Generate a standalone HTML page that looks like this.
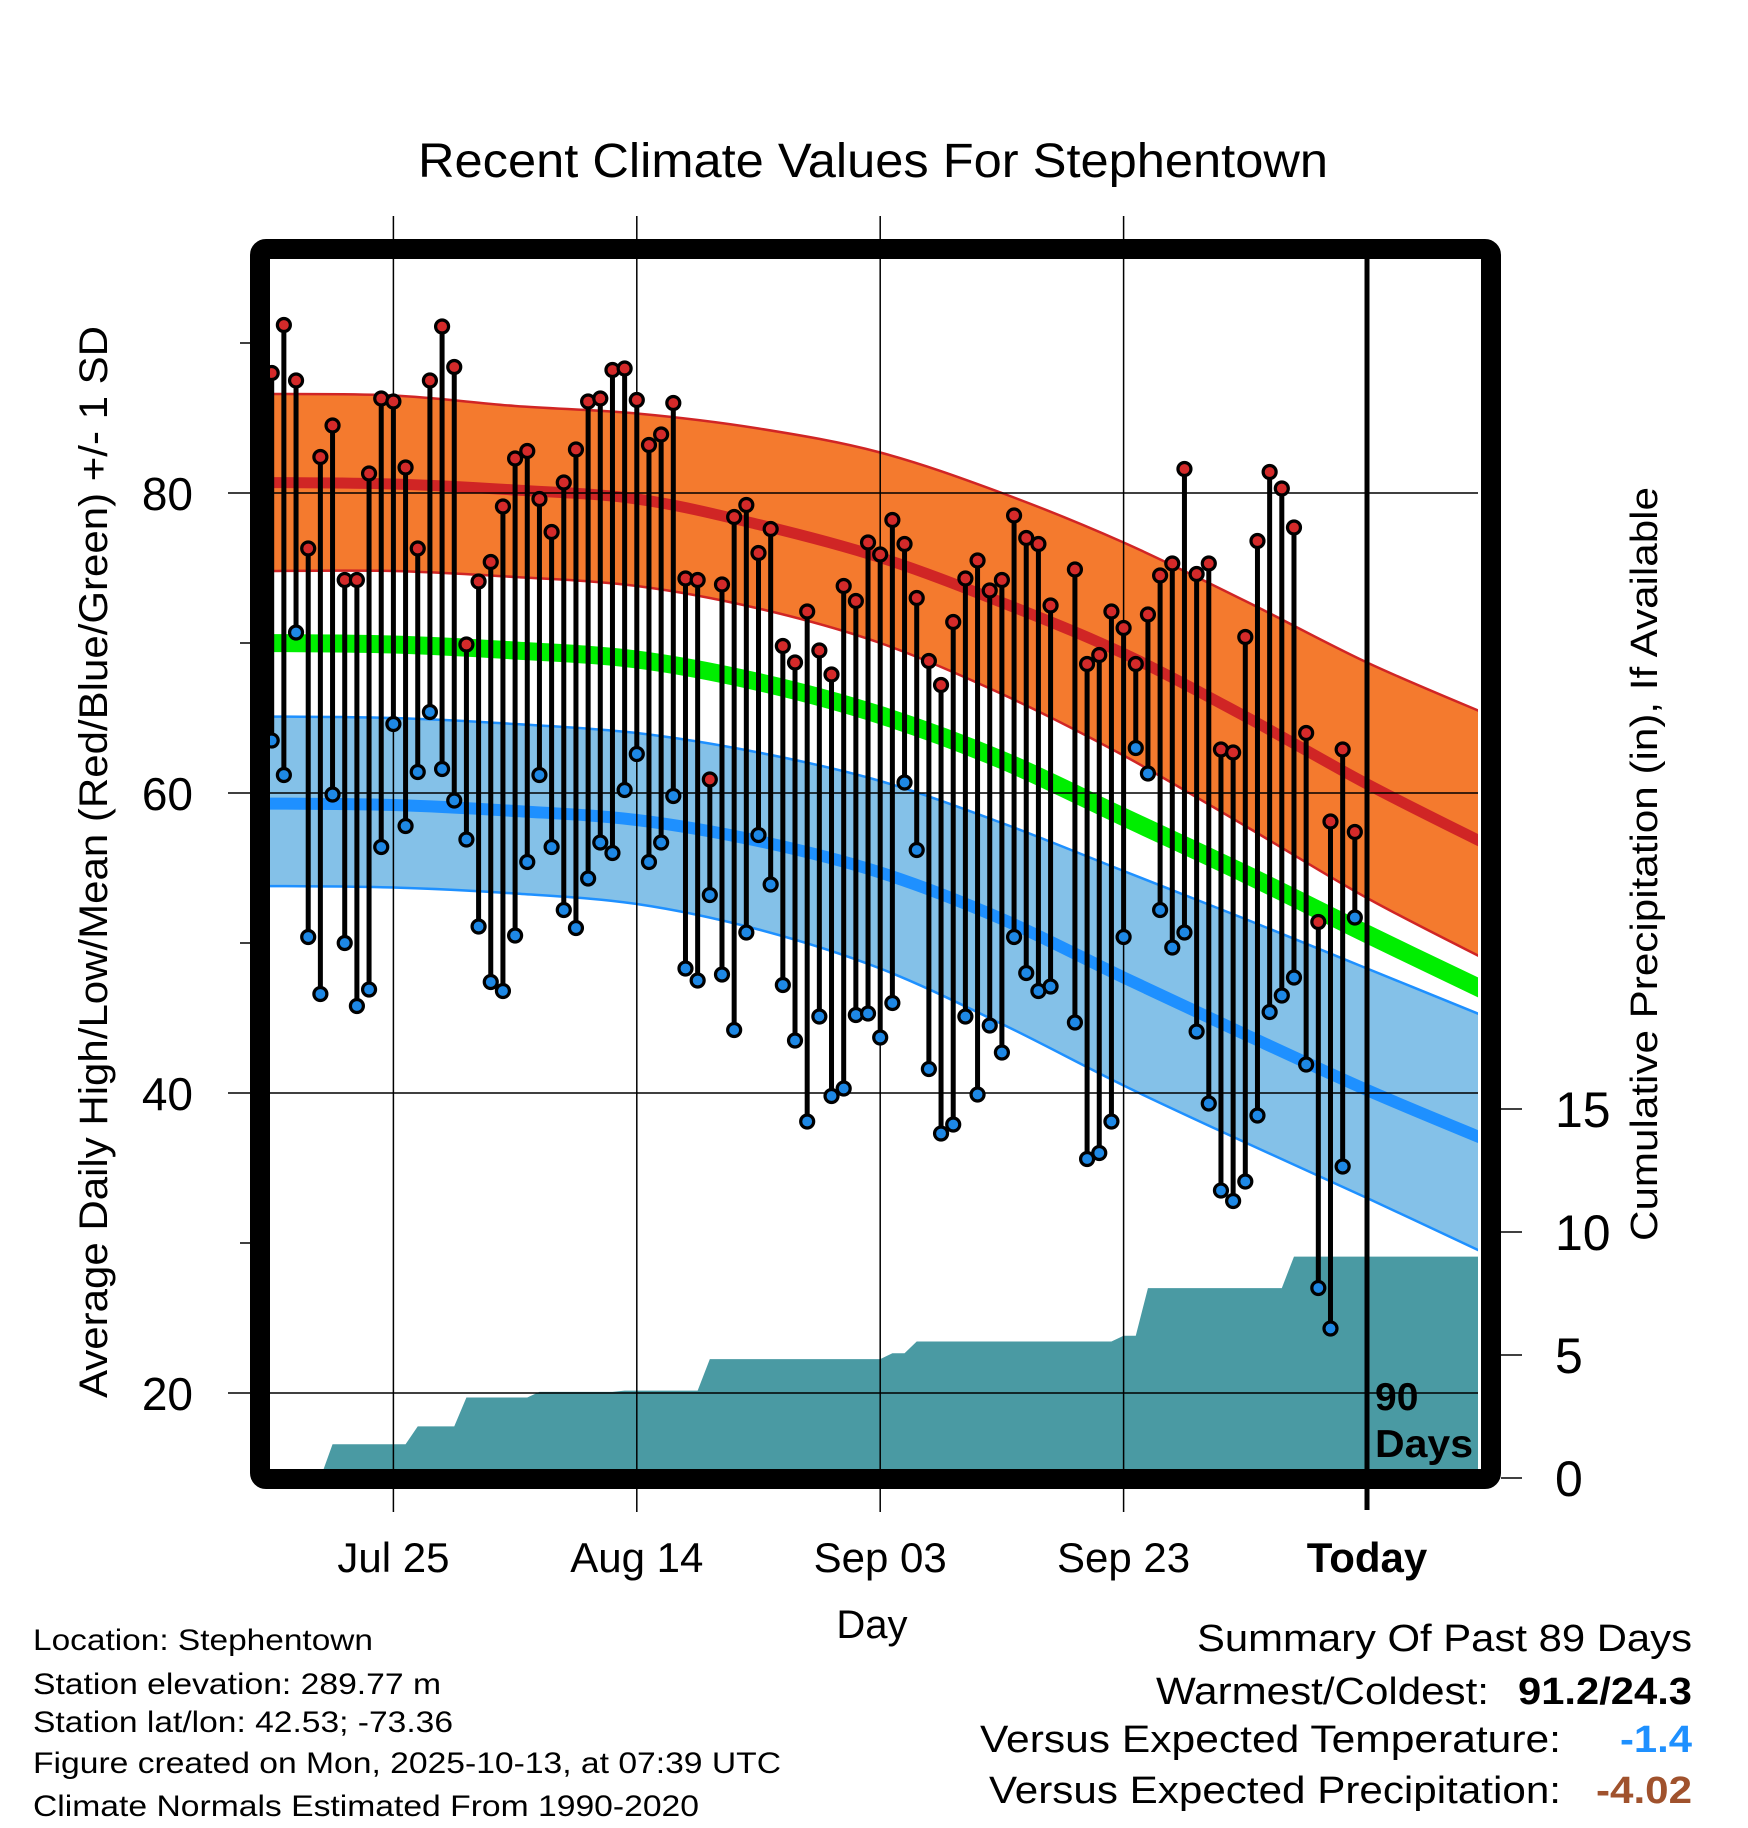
<!DOCTYPE html>
<html><head><meta charset="utf-8"><style>
html,body{margin:0;padding:0;background:#fff;}
svg{display:block;font-family:"Liberation Sans",Arial,sans-serif;}
</style></head><body>
<svg id="chart" width="1748" height="1828" viewBox="0 0 1748 1828" xmlns="http://www.w3.org/2000/svg">
<defs><clipPath id="plotclip"><rect x="270" y="259" width="1208" height="1210"/></clipPath></defs>
<text x="873" y="177" font-size="48" text-anchor="middle" textLength="910" lengthAdjust="spacingAndGlyphs">Recent Climate Values For Stephentown</text>
<g id="bands" clip-path="url(#plotclip)"></g>
<g id="precip" clip-path="url(#plotclip)"></g>
<g id="grid"></g>
<g id="marks" clip-path="url(#plotclip)"></g>
<g id="axes"></g>
<rect x="260" y="249" width="1231" height="1230" rx="6" fill="none" stroke="#000" stroke-width="20"/>
<text x="1375" y="1410" font-size="39" font-weight="bold">90</text>
<text x="1375" y="1457" font-size="39" font-weight="bold" textLength="98" lengthAdjust="spacingAndGlyphs">Days</text>
<text transform="translate(107,862) rotate(-90)" font-size="40" text-anchor="middle" textLength="1072" lengthAdjust="spacingAndGlyphs">Average Daily High/Low/Mean (Red/Blue/Green) +/- 1 SD</text>
<text transform="translate(1657,864) rotate(-90)" font-size="38" text-anchor="middle" textLength="754" lengthAdjust="spacingAndGlyphs">Cumulative Precipitation (in), If Available</text>
<text x="872" y="1638" font-size="40" text-anchor="middle">Day</text>
<g font-size="30">
<text x="33" y="1650" textLength="340" lengthAdjust="spacingAndGlyphs">Location: Stephentown</text>
<text x="33" y="1694" textLength="408" lengthAdjust="spacingAndGlyphs">Station elevation: 289.77 m</text>
<text x="33" y="1732" textLength="420" lengthAdjust="spacingAndGlyphs">Station lat/lon: 42.53; -73.36</text>
<text x="33" y="1773" textLength="748" lengthAdjust="spacingAndGlyphs">Figure created on Mon, 2025-10-13, at 07:39 UTC</text>
<text x="33" y="1816" textLength="666" lengthAdjust="spacingAndGlyphs">Climate Normals Estimated From 1990-2020</text>
</g>
<g font-size="38">
<text x="1692" y="1651" text-anchor="end" textLength="495" lengthAdjust="spacingAndGlyphs">Summary Of Past 89 Days</text>
<text x="1156" y="1704" textLength="333" lengthAdjust="spacingAndGlyphs">Warmest/Coldest:</text>
<text x="1692" y="1704" text-anchor="end" font-weight="bold" textLength="174" lengthAdjust="spacingAndGlyphs">91.2/24.3</text>
<text x="980" y="1752" textLength="581" lengthAdjust="spacingAndGlyphs">Versus Expected Temperature:</text>
<text x="1692" y="1752" text-anchor="end" font-weight="bold" fill="#1e90ff" textLength="72" lengthAdjust="spacingAndGlyphs">-1.4</text>
<text x="989" y="1803" textLength="572" lengthAdjust="spacingAndGlyphs">Versus Expected Precipitation:</text>
<text x="1692" y="1803" text-anchor="end" font-weight="bold" fill="#a0522d" textLength="96" lengthAdjust="spacingAndGlyphs">-4.02</text>
</g>
</svg>
<script>
const highs = [88.0,91.2,87.5,76.3,82.4,84.5,74.2,74.2,81.3,86.3,86.1,81.7,76.3,87.5,91.1,88.4,69.9,74.1,75.4,79.1,82.3,82.8,79.6,77.4,80.7,82.9,86.1,86.3,88.2,88.3,86.2,83.2,83.9,86.0,74.3,74.2,60.9,73.9,78.4,79.2,76.0,77.6,69.8,68.7,72.1,69.5,67.9,73.8,72.8,76.7,75.9,78.2,76.6,73.0,68.8,67.2,71.4,74.3,75.5,73.5,74.2,78.5,77.0,76.6,72.5,null,74.9,68.6,69.2,72.1,71.0,68.6,71.9,74.5,75.3,81.6,74.6,75.3,62.9,62.7,70.4,76.8,81.4,80.3,77.7,64.0,51.4,58.1,62.9,57.4];
const lows = [63.5,61.2,70.7,50.4,46.6,59.9,50.0,45.8,46.9,56.4,64.6,57.8,61.4,65.4,61.6,59.5,56.9,51.1,47.4,46.8,50.5,55.4,61.2,56.4,52.2,51.0,54.3,56.7,56.0,60.2,62.6,55.4,56.7,59.8,48.3,47.5,53.2,47.9,44.2,50.7,57.2,53.9,47.2,43.5,38.1,45.1,39.8,40.3,45.2,45.3,43.7,46.0,60.7,56.2,41.6,37.3,37.9,45.1,39.9,44.5,42.7,50.4,48.0,46.8,47.1,null,44.7,35.6,36.0,38.1,50.4,63.0,61.3,52.2,49.7,50.7,44.1,39.3,33.5,32.8,34.1,38.5,45.4,46.5,47.7,41.9,27.0,24.3,35.1,51.7];
const precipDays = [0,4,5,11,12,15,16,21,22,28,29,35,36,50,51,52,53,69,70,71,72,83,84,100];
const precipVals = [0,0,1.37,1.37,2.1,2.1,3.27,3.27,3.5,3.5,3.55,3.55,4.83,4.83,5.07,5.07,5.55,5.55,5.78,5.78,7.72,7.72,9.0,9.0];
const normDays = [-1,10,20,30,40,50,60,70,80,90,100];
const hiUpper = [86.6,86.5,85.8,85.3,84.3,82.7,80.0,76.7,72.8,68.7,65.2];
const hiMean  = [80.7,80.6,80.2,79.6,77.9,75.7,72.7,69.3,65.1,60.6,56.5];
const hiLower = [74.8,74.8,74.4,73.8,72.3,70.0,66.6,62.5,57.8,53.0,48.8];
const avgMean = [70.0,69.9,69.5,68.9,67.4,65.2,62.2,58.4,54.6,50.6,46.7];
const loUpper = [65.1,65.0,64.6,64.0,62.7,60.8,58.0,54.8,51.6,48.3,45.0];
const loMean  = [59.3,59.2,58.8,58.2,56.8,54.7,51.6,47.7,43.9,40.2,36.8];
const loLower = [53.8,53.7,53.3,52.6,50.9,48.3,44.6,40.5,36.7,33.0,29.2];
const yTicks = [20,40,60,80];
const yMinor = [30,50,70,90];
const precipTicks = [0,5,10,15];
const xTickDays = [10,30,50,70,90];
const xTickLabels = ["Jul 25","Aug 14","Sep 03","Sep 23","Today"];

const NS = "http://www.w3.org/2000/svg";
function xS(d){ return 271.7 + 12.17*d; }
function yS(t){ return 493 - 15*(t-80); }
function yP(p){ return 1478 - 24.6*p; }
function mk(tag, attrs, parent){
  const e = document.createElementNS(NS, tag);
  for (const k in attrs) e.setAttribute(k, attrs[k]);
  parent.appendChild(e); return e;
}
function smoothPts(days, vals){
  const pts = days.map((d,i)=>[xS(d), yS(vals[i])]);
  let s = "";
  for (let i=0;i<pts.length-1;i++){
    const p0=pts[Math.max(0,i-1)], p1=pts[i], p2=pts[i+1], p3=pts[Math.min(pts.length-1,i+2)];
    const c1=[p1[0]+(p2[0]-p0[0])/6, p1[1]+(p2[1]-p0[1])/6];
    const c2=[p2[0]-(p3[0]-p1[0])/6, p2[1]-(p3[1]-p1[1])/6];
    if(i===0) s += "M"+p1[0]+","+p1[1];
    s += " C"+c1[0]+","+c1[1]+" "+c2[0]+","+c2[1]+" "+p2[0]+","+p2[1];
  }
  return s;
}
function bandPath(up, lo){
  const a = smoothPts(normDays, up);
  const revD = normDays.slice().reverse(), revV = lo.slice().reverse();
  const b = smoothPts(revD, revV).replace("M"," L");
  return a + b + " Z";
}
const bands = document.getElementById("bands");
let el;
el = mk("path",{d:bandPath(hiUpper,hiLower),fill:"#f47a2e",stroke:"none"},bands);


el = mk("path",{d:smoothPts(normDays,hiUpper),fill:"none",stroke:"#d02525","stroke-width":2.5},bands);


el = mk("path",{d:smoothPts(normDays,hiLower),fill:"none",stroke:"#d02525","stroke-width":2.5},bands);


el = mk("path",{d:smoothPts(normDays,hiMean),fill:"none",stroke:"#d02525","stroke-width":11},bands);


el = mk("path",{d:smoothPts(normDays,avgMean),fill:"none",stroke:"#00ee00","stroke-width":18},bands);


el = mk("path",{d:bandPath(loUpper,loLower),fill:"#84c1e8",stroke:"none"},bands);


el = mk("path",{d:smoothPts(normDays,loUpper),fill:"none",stroke:"#1e90ff","stroke-width":2.5},bands);


el = mk("path",{d:smoothPts(normDays,loLower),fill:"none",stroke:"#1e90ff","stroke-width":2.5},bands);


el = mk("path",{d:smoothPts(normDays,loMean),fill:"none",stroke:"#1e90ff","stroke-width":12},bands);



const pg = document.getElementById("precip");
let pd = "M"+xS(precipDays[0])+","+yP(0);
precipDays.forEach((d,i)=>{ pd += " L"+xS(d)+","+yP(precipVals[i]); });
pd += " L"+xS(precipDays[precipDays.length-1])+","+yP(0)+" Z";
el = mk("path",{d:pd,fill:"#4a9aa3",stroke:"none"},pg);



const grid = document.getElementById("grid");
const axes = document.getElementById("axes");
yTicks.forEach(t=>{
  el = mk("line",{x1:228,x2:1478,y1:yS(t),y2:yS(t),stroke:"#000","stroke-width":1.5},grid);
  
  
  el = mk("text",{x:193,y:yS(t)+17,"font-size":46,"text-anchor":"end"},axes);
  el.textContent = t;
  
  
});
yMinor.forEach(t=>{
  el = mk("line",{x1:240,x2:250,y1:yS(t),y2:yS(t),stroke:"#000","stroke-width":1.5},axes);
  
  
});
xTickDays.forEach((d,i)=>{
  const isToday = xTickLabels[i]==="Today";
  if(!isToday){
    el = mk("line",{x1:xS(d),x2:xS(d),y1:216,y2:1512,stroke:"#000","stroke-width":1.5},grid);
    
    
  }
  el = mk("text",{x:xS(d),y:1572,"font-size":42,"text-anchor":"middle","font-weight":isToday?"bold":"normal"},axes);
  el.textContent = xTickLabels[i];
  
  
});
precipTicks.forEach(p=>{
  el = mk("line",{x1:1501,x2:1522,y1:yP(p),y2:yP(p),stroke:"#000","stroke-width":1.5},axes);
  
  
  el = mk("text",{x:1555,y:yP(p)+18,"font-size":50},axes);
  el.textContent = p;
  
  
});

const marks = document.getElementById("marks");
highs.forEach((h,d)=>{
  const l = lows[d];
  if(h===null || l===null) return;
  el = mk("line",{x1:xS(d),x2:xS(d),y1:yS(h),y2:yS(l),stroke:"#000","stroke-width":5},marks);
  
  
});
highs.forEach((h,d)=>{
  const l = lows[d];
  if(h===null || l===null) return;
  el = mk("circle",{cx:xS(d),cy:yS(l),r:6.5,fill:"#1e88e5",stroke:"#000","stroke-width":3.2},marks);
  
  
  el = mk("circle",{cx:xS(d),cy:yS(h),r:6.5,fill:"#d42a2a",stroke:"#000","stroke-width":3.2},marks);
  
  
});
el = mk("line",{x1:xS(90),x2:xS(90),y1:255,y2:1510,stroke:"#000","stroke-width":5},axes);


</script>
</body></html>
